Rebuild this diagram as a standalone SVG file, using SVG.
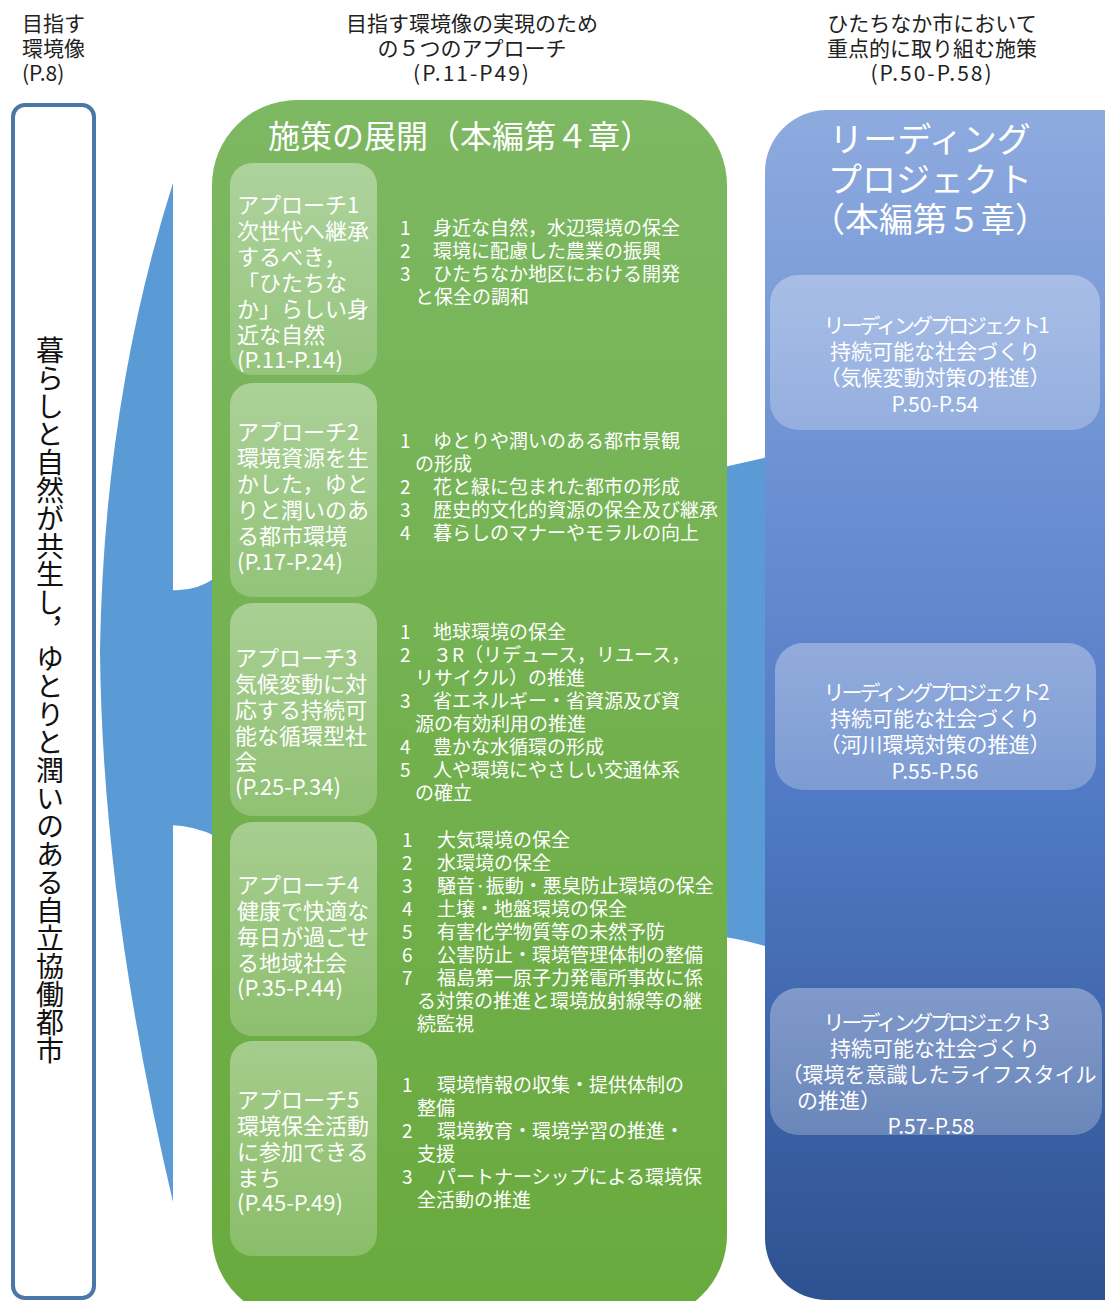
<svg xmlns="http://www.w3.org/2000/svg" width="1105" height="1301" viewBox="0 0 1105 1301">
<defs>
<linearGradient id="gGreen" x1="0" y1="0" x2="0" y2="1">
<stop offset="0" stop-color="#7db862"/>
<stop offset="1" stop-color="#69aa3d"/>
</linearGradient>
<linearGradient id="gAppr" x1="0" y1="0" x2="0" y2="1">
<stop offset="0" stop-color="#ffffff" stop-opacity="0.38"/>
<stop offset="1" stop-color="#ffffff" stop-opacity="0.22"/>
</linearGradient>
<linearGradient id="gBlue" x1="0" y1="0" x2="0" y2="1">
<stop offset="0" stop-color="#8eabdf"/>
<stop offset="0.3" stop-color="#6d91d3"/>
<stop offset="0.6" stop-color="#4f78c3"/>
<stop offset="1" stop-color="#2e5190"/>
</linearGradient>
<linearGradient id="gLead" x1="0" y1="0" x2="0" y2="1">
<stop offset="0" stop-color="#ffffff" stop-opacity="0.32"/>
<stop offset="1" stop-color="#ffffff" stop-opacity="0.25"/>
</linearGradient>
</defs>
<style>
text{font-family:"Noto Sans CJK JP","Noto Sans",sans-serif;}
.hd{font-size:21px;fill:#222;}
.hc{text-anchor:middle;}
.ap{font-size:22px;fill:#fff;}
.li{font-size:19px;fill:#fff;}
.rh{font-size:34px;fill:#fff;text-anchor:middle;}
.rb{font-size:21px;fill:#fff;text-anchor:middle;}
.band{fill:#5b9bd5;}
</style>
<rect width="1105" height="1301" fill="#fff"/>

<g id="headers">
<text class="hd" x="22" y="31">目指す</text>
<text class="hd" x="22" y="56">環境像</text>
<text class="hd" x="22" y="81">(P.8)</text>
<text class="hd hc" x="472" y="31">目指す環境像の実現のため</text>
<text class="hd hc" x="472" y="56">の５つのアプローチ</text>
<text class="hd hc" x="472" y="81" letter-spacing="2">(P.11-P49)</text>
<text class="hd hc" x="932" y="31">ひたちなか市において</text>
<text class="hd hc" x="932" y="56">重点的に取り組む施策</text>
<text class="hd hc" x="932" y="81" letter-spacing="2">(P.50-P.58)</text>
</g>

<g id="connectors">
<path class="band" d="M173,183 Q104,400 100,650 Q102,900 173,1202 Z"/>
<path class="band" d="M170,590 Q195,592 215,578 L215,836 Q195,826 170,825 Z"/>
<path class="band" d="M724,467 L768,457 L768,947 Q745,940 724,937 Z"/>
</g>

<g id="vision">
<rect x="13" y="105" width="81" height="1193" rx="12" fill="#fff" stroke="#4a76a8" stroke-width="4"/>
<text x="50" y="336" font-size="28" fill="#111" style="writing-mode:vertical-rl;">暮らしと自然が共生し，ゆとりと潤いのある自立協働都市</text>
</g>

<g id="measures">
<rect x="212" y="100" width="515" height="1220" rx="85" fill="url(#gGreen)"/>
<text x="268" y="148" font-size="32" fill="#fff">施策の展開（本編第４章）</text>
</g>

<g id="approach1">
<rect x="230" y="163" width="147" height="212" rx="22" fill="url(#gAppr)"/>
<text class="ap" x="237" y="213">アプローチ1</text>
<text class="ap" x="237" y="239">次世代へ継承</text>
<text class="ap" x="237" y="265">するべき，</text>
<text class="ap" x="237" y="291">「ひたちな</text>
<text class="ap" x="237" y="317">か」らしい身</text>
<text class="ap" x="237" y="343">近な自然</text>
<text class="ap" x="237" y="368">(P.11-P.14)</text>
<text class="li" x="400" y="235">1</text><text class="li" x="433" y="235">身近な自然，水辺環境の保全</text>
<text class="li" x="400" y="258">2</text><text class="li" x="433" y="258">環境に配慮した農業の振興</text>
<text class="li" x="400" y="281">3</text><text class="li" x="433" y="281">ひたちなか地区における開発</text>
<text class="li" x="415" y="304">と保全の調和</text>
</g>

<g id="approach2">
<rect x="230" y="383" width="147" height="214" rx="22" fill="url(#gAppr)"/>
<text class="ap" x="237" y="440">アプローチ2</text>
<text class="ap" x="237" y="466">環境資源を生</text>
<text class="ap" x="237" y="492">かした，ゆと</text>
<text class="ap" x="237" y="518">りと潤いのあ</text>
<text class="ap" x="237" y="544">る都市環境</text>
<text class="ap" x="237" y="570">(P.17-P.24)</text>
<text class="li" x="400" y="448">1</text><text class="li" x="433" y="448">ゆとりや潤いのある都市景観</text>
<text class="li" x="415" y="471">の形成</text>
<text class="li" x="400" y="494">2</text><text class="li" x="433" y="494">花と緑に包まれた都市の形成</text>
<text class="li" x="400" y="517">3</text><text class="li" x="433" y="517">歴史的文化的資源の保全及び継承</text>
<text class="li" x="400" y="540">4</text><text class="li" x="433" y="540">暮らしのマナーやモラルの向上</text>
</g>

<g id="approach3">
<rect x="230" y="603" width="147" height="213" rx="22" fill="url(#gAppr)"/>
<text class="ap" x="235" y="666">アプローチ3</text>
<text class="ap" x="235" y="692">気候変動に対</text>
<text class="ap" x="235" y="718">応する持続可</text>
<text class="ap" x="235" y="744">能な循環型社</text>
<text class="ap" x="235" y="770">会</text>
<text class="ap" x="235" y="795">(P.25-P.34)</text>
<text class="li" x="400" y="639">1</text><text class="li" x="433" y="639">地球環境の保全</text>
<text class="li" x="400" y="662">2</text><text class="li" x="433" y="662">３R（リデュース，リユース，</text>
<text class="li" x="415" y="685">リサイクル）の推進</text>
<text class="li" x="400" y="708">3</text><text class="li" x="433" y="708">省エネルギー・省資源及び資</text>
<text class="li" x="415" y="731">源の有効利用の推進</text>
<text class="li" x="400" y="754">4</text><text class="li" x="433" y="754">豊かな水循環の形成</text>
<text class="li" x="400" y="777">5</text><text class="li" x="433" y="777">人や環境にやさしい交通体系</text>
<text class="li" x="415" y="800">の確立</text>
</g>

<g id="approach4">
<rect x="230" y="822" width="147" height="214" rx="22" fill="url(#gAppr)"/>
<text class="ap" x="237" y="893">アプローチ4</text>
<text class="ap" x="237" y="919">健康で快適な</text>
<text class="ap" x="237" y="945">毎日が過ごせ</text>
<text class="ap" x="237" y="971">る地域社会</text>
<text class="ap" x="237" y="996">(P.35-P.44)</text>
<text class="li" x="402" y="847">1</text><text class="li" x="437" y="847">大気環境の保全</text>
<text class="li" x="402" y="870">2</text><text class="li" x="437" y="870">水環境の保全</text>
<text class="li" x="402" y="893">3</text><text class="li" x="437" y="893">騒音·振動・悪臭防止環境の保全</text>
<text class="li" x="402" y="916">4</text><text class="li" x="437" y="916">土壌・地盤環境の保全</text>
<text class="li" x="402" y="939">5</text><text class="li" x="437" y="939">有害化学物質等の未然予防</text>
<text class="li" x="402" y="962">6</text><text class="li" x="437" y="962">公害防止・環境管理体制の整備</text>
<text class="li" x="402" y="985">7</text><text class="li" x="437" y="985">福島第一原子力発電所事故に係</text>
<text class="li" x="417" y="1008">る対策の推進と環境放射線等の継</text>
<text class="li" x="417" y="1031">続監視</text>
</g>

<g id="approach5">
<rect x="230" y="1041" width="147" height="215" rx="22" fill="url(#gAppr)"/>
<text class="ap" x="237" y="1108">アプローチ5</text>
<text class="ap" x="237" y="1134">環境保全活動</text>
<text class="ap" x="237" y="1160">に参加できる</text>
<text class="ap" x="237" y="1186">まち</text>
<text class="ap" x="237" y="1211">(P.45-P.49)</text>
<text class="li" x="402" y="1092">1</text><text class="li" x="437" y="1092">環境情報の収集・提供体制の</text>
<text class="li" x="417" y="1115">整備</text>
<text class="li" x="402" y="1138">2</text><text class="li" x="437" y="1138">環境教育・環境学習の推進・</text>
<text class="li" x="417" y="1161">支援</text>
<text class="li" x="402" y="1184">3</text><text class="li" x="437" y="1184">パートナーシップによる環境保</text>
<text class="li" x="417" y="1207">全活動の推進</text>
</g>

<g id="leading">
<rect x="765" y="110" width="400" height="1190" rx="62" fill="url(#gBlue)"/>
<text class="rh" x="930" y="152">リーディング</text>
<text class="rh" x="930" y="192">プロジェクト</text>
<text class="rh" x="930" y="232" font-size="31">（本編第５章）</text>
</g>

<g id="project1">
<rect x="770" y="275" width="330" height="155" rx="28" fill="url(#gLead)"/>
<text class="rb" x="935" y="333" letter-spacing="-3">リーディングプロジェクト1</text>
<text class="rb" x="935" y="359">持続可能な社会づくり</text>
<text class="rb" x="935" y="385">（気候変動対策の推進）</text>
<text class="rb" x="935" y="412" font-size="24">P.50-P.54</text>
</g>

<g id="project2">
<rect x="775" y="643" width="321" height="147" rx="28" fill="url(#gLead)"/>
<text class="rb" x="935" y="700" letter-spacing="-3">リーディングプロジェクト2</text>
<text class="rb" x="935" y="726">持続可能な社会づくり</text>
<text class="rb" x="935" y="752">（河川環境対策の推進）</text>
<text class="rb" x="935" y="779" font-size="24">P.55-P.56</text>
</g>

<g id="project3">
<rect x="770" y="988" width="332" height="147" rx="28" fill="url(#gLead)"/>
<text class="rb" x="935" y="1030" letter-spacing="-3">リーディングプロジェクト3</text>
<text class="rb" x="935" y="1056">持続可能な社会づくり</text>
<text class="rb" x="939" y="1082">（環境を意識したライフスタイル</text>
<text class="rb" x="797" y="1108" style="text-anchor:start">の推進）</text>
<text class="rb" x="931" y="1134" font-size="24">P.57-P.58</text>
</g>
</svg>
